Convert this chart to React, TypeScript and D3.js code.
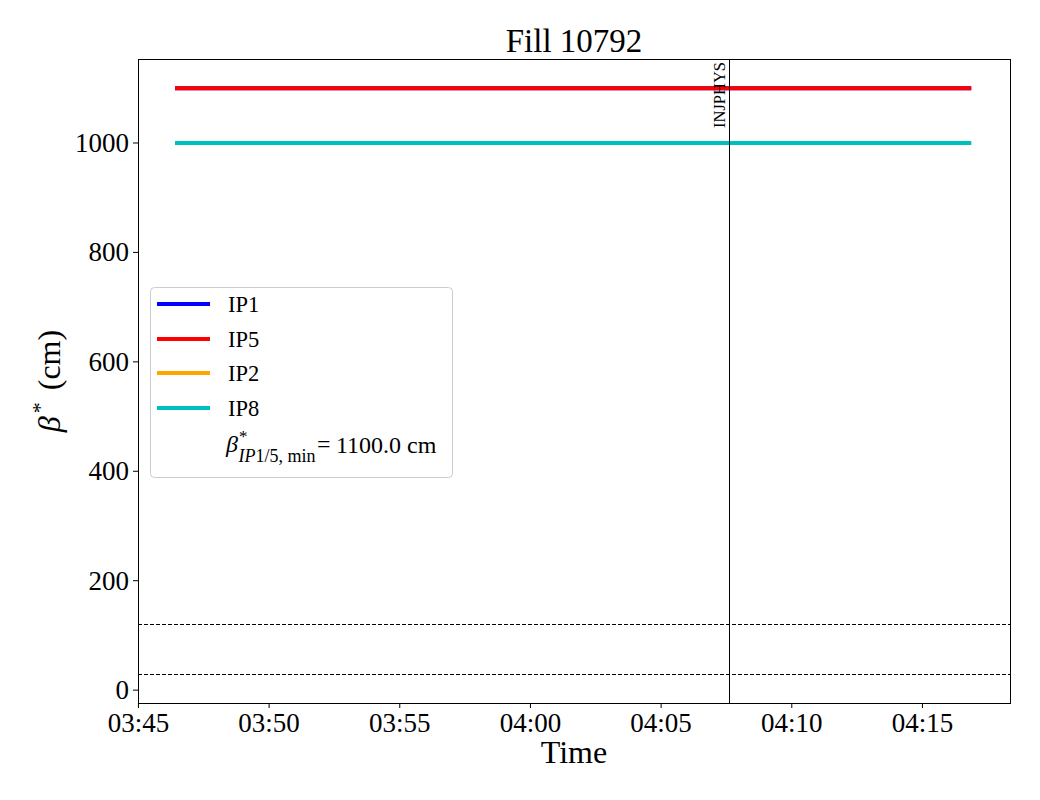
import React from "react";
import * as d3 from "d3";

const seriesNames = ["IP1", "IP5", "IP2", "IP8"];
const seriesColors = ["#0000ff", "#ff0000", "#ffa500", "#00bfbf"];
const seriesValues = [1100, 1100, 1000, 1000];
const seriesTimes = ["03:46:24", "04:16:52"];
const refLines = [30, 120];
const modeTime = "04:07:36";
const modeLabel = "INJPHYS";
const xDomainTimes = ["03:44:59", "04:18:21"];
const yDomain = [-23.5, 1153.5];
const yTicks = [0, 200, 400, 600, 800, 1000];
const title = "Fill 10792";
const betaMin = "1100.0";

function t(s: string): Date {
  const [h, m, sec] = s.split(":").map(Number);
  return new Date(2025, 5, 1, h, m, sec);
}

const W = 1040, H = 800;
const L = 138, R = 1010, T = 59, B = 703;
const font = "'Liberation Serif', 'DejaVu Serif', serif";

export default function App() {
  const x = d3.scaleTime().domain([t(xDomainTimes[0]), t(xDomainTimes[1])]).range([L, R]);
  const y = d3.scaleLinear().domain(yDomain).range([B, T]);
  const xTicks = x.ticks(d3.timeMinute.every(5) as any);
  const fmt = d3.timeFormat("%H:%M");
  const line = d3.line<[Date, number]>().x(d => x(d[0])).y(d => y(d[1]));
  const mx = Math.round(x(t(modeTime))) + 0.5;

  const legX = 150, legY = 287, legW = 302, legH = 190;
  const rowY = [304, 339, 373, 408];

  return (
    <svg width={W} height={H} style={{ position: "absolute", left: 0, top: 0, background: "#fff" }} fontFamily={font}>
      <rect x={0} y={0} width={W} height={H} fill="#fff" />
      <text x={(L + R) / 2} y={52} textAnchor="middle" fontSize={33}>{title}</text>
      <defs>
        <clipPath id="plotclip"><rect x={L} y={T} width={R - L} height={B - T} /></clipPath>
      </defs>
      <g clipPath="url(#plotclip)">
        {refLines.map((v, i) => (
          <line key={i} x1={L} x2={R} y1={Math.round(y(v)) + 0.5} y2={Math.round(y(v)) + 0.5} stroke="#000" strokeWidth={1} strokeDasharray="4,2" />
        ))}
        {seriesNames.map((n, i) => (
          <path key={n} d={line(seriesTimes.map(s => [t(s), seriesValues[i]] as [Date, number])) || ""}
            stroke={seriesColors[i]} strokeWidth={4.2} fill="none" />
        ))}
        <line x1={mx} x2={mx} y1={T} y2={B} stroke="#000" strokeWidth={1} />
      </g>
      <text transform={`translate(${mx - 5},${62}) rotate(-90)`} textAnchor="end" fontSize={16.5}>{modeLabel}</text>
      <rect x={L + 0.5} y={T + 0.5} width={R - L} height={B - T} fill="none" stroke="#000" strokeWidth={1} />
      {xTicks.map((d, i) => (
        <g key={i}>
          <line x1={x(d)} x2={x(d)} y1={B} y2={B + 5} stroke="#000" />
          <text x={x(d)} y={B + 29} textAnchor="middle" fontSize={27}>{fmt(d)}</text>
        </g>
      ))}
      {yTicks.map((v, i) => (
        <g key={i}>
          <line x1={L - 5} x2={L} y1={y(v)} y2={y(v)} stroke="#000" />
          <text x={L - 9} y={y(v) + 9} textAnchor="end" fontSize={27}>{v}</text>
        </g>
      ))}
      <text x={(L + R) / 2} y={763} textAnchor="middle" fontSize={32}>Time</text>
      <text transform={`translate(60,${(T + B) / 2}) rotate(-90)`} textAnchor="middle" fontSize={32}>
        <tspan fontStyle="italic">β</tspan><tspan dx={3} dy={-13} fontSize={22}>*</tspan><tspan dx={12} dy={13}>(cm)</tspan>
      </text>
      <rect x={legX + 0.5} y={legY + 0.5} width={legW} height={legH} rx={4} fill="#fff" fillOpacity={0.8} stroke="#cccccc" strokeWidth={1} />
      {seriesNames.map((n, i) => (
        <g key={n}>
          <line x1={157} x2={210} y1={rowY[i]} y2={rowY[i]} stroke={seriesColors[i]} strokeWidth={4.2} />
          <text x={228} y={rowY[i] + 8} fontSize={22.5}>{n}</text>
        </g>
      ))}
      <g>
        <text x={226} y={452} fontSize={24} fontStyle="italic">
          β<tspan dx={1} dy={-10} fontSize={17} fontStyle="normal">*</tspan>
          <tspan dx={-9} dy={20} fontSize={18}><tspan fontStyle="italic">IP</tspan><tspan fontStyle="normal">1/5, min</tspan></tspan>
        </text>
        <text x={317} y={452} fontSize={24}>=</text>
        <text x={336} y={453} fontSize={24}>{betaMin} cm</text>
      </g>
    </svg>
  );
}
